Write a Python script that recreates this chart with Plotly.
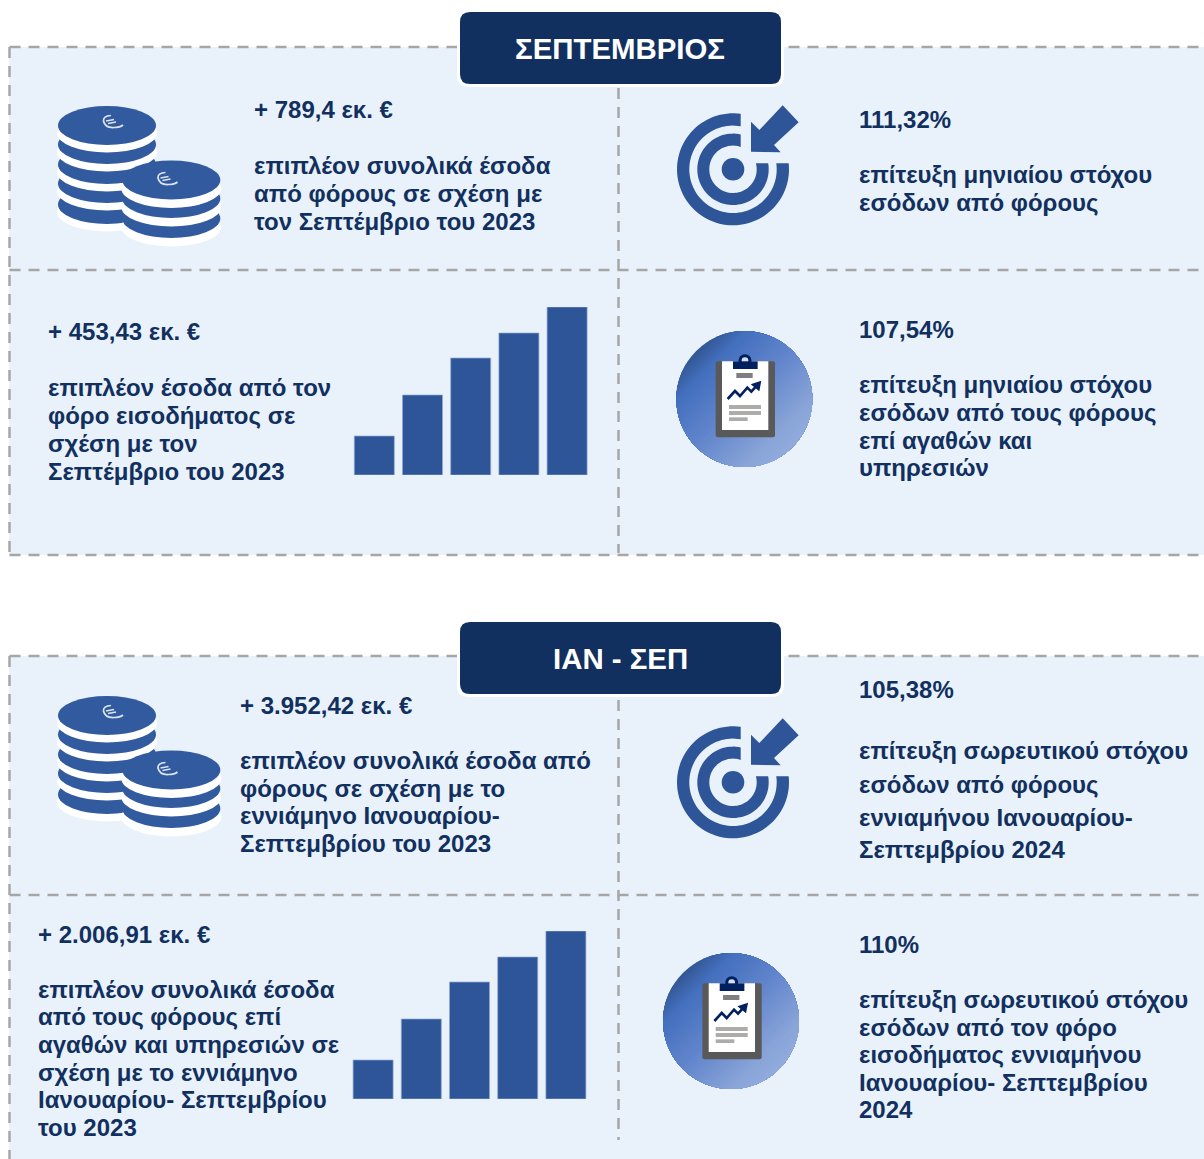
import math
import plotly.graph_objects as go

NAVY = "#12305F"
BLUE = "#2E5597"
COIN = "#325A9F"
PANEL = "#E9F2FA"
DASH = "#A6A6A6"

# ---------- data ----------
bar_categories = ["1", "2", "3", "4", "5"]
bars_september = [39, 80, 117, 142, 168]
bars_jan_sep = [39, 80, 117, 142, 168]

header_labels = ["ΣΕΠΤΕΜΒΡΙΟΣ", "ΙΑΝ - ΣΕΠ"]

block_a = ["+ 789,4 εκ. €", "επιπλέον συνολικά έσοδα", "από φόρους σε σχέση με", "τον Σεπτέμβριο του 2023"]
block_b = ["111,32%", "επίτευξη μηνιαίου στόχου", "εσόδων από φόρους"]
block_c = ["+ 453,43 εκ. €", "επιπλέον έσοδα από τον", "φόρο εισοδήματος σε", "σχέση με τον", "Σεπτέμβριο του 2023"]
block_d = ["107,54%", "επίτευξη μηνιαίου στόχου", "εσόδων από τους φόρους", "επί αγαθών και", "υπηρεσιών"]
block_e = ["+ 3.952,42 εκ. €", "επιπλέον συνολικά έσοδα από", "φόρους σε σχέση με το", "εννιάμηνο Ιανουαρίου-", "Σεπτεμβρίου του 2023"]
block_f = ["105,38%", "επίτευξη σωρευτικού στόχου", "εσόδων από φόρους", "εννιαμήνου Ιανουαρίου-", "Σεπτεμβρίου 2024"]
block_g = ["+ 2.006,91 εκ. €", "επιπλέον συνολικά έσοδα", "από τους φόρους επί", "αγαθών και υπηρεσιών σε", "σχέση με το εννιάμηνο", "Ιανουαρίου- Σεπτεμβρίου", "του 2023"]
block_h = ["110%", "επίτευξη σωρευτικού στόχου", "εσόδων από τον φόρο", "εισοδήματος εννιαμήνου", "Ιανουαρίου- Σεπτεμβρίου", "2024"]

blocks = [
    (252, [109, 165, 193, 221], block_a),
    (857, [119, 174, 202], block_b),
    (46, [331, 387, 415, 443, 471], block_c),
    (857, [329, 384, 412, 440, 467], block_d),
    (238, [705, 760, 788, 815, 843], block_e),
    (857, [689, 750, 784, 817, 849], block_f),
    (36, [934, 989, 1016, 1044, 1072, 1099, 1127], block_g),
    (857, [944, 999, 1027, 1054, 1082, 1109], block_h),
]

W, H = 1204, 1159
shapes = []
annotations = []


def add_path(d, fill, line=None, lw=0):
    shapes.append(dict(type="path", path=d, xref="x", yref="y", fillcolor=fill,
                       line=dict(color=line or fill, width=lw), layer="below"))


def poly(pts):
    return "M" + " L".join(f"{x:.2f},{y:.2f}" for x, y in pts) + " Z"


def stroke(d, color, width):
    shapes.append(dict(type="path", xref="x", yref="y", layer="below", path=d,
                       line=dict(color=color, width=width), fillcolor="rgba(0,0,0,0)"))


def ellipse(cx, cy, rx, ry, fill):
    shapes.append(dict(type="circle", xref="x", yref="y", x0=cx - rx, x1=cx + rx, y0=cy - ry, y1=cy + ry,
                       fillcolor=fill, line=dict(width=0), layer="below"))


def rect(x0, y0, x1, y1, fill):
    shapes.append(dict(type="rect", xref="x", yref="y", x0=x0, x1=x1, y0=y0, y1=y1,
                       fillcolor=fill, line=dict(width=0), layer="below"))


def dash(x0, y0, x1, y1):
    shapes.append(dict(type="line", xref="x", yref="y", x0=x0, x1=x1, y0=y0, y1=y1,
                       line=dict(color=DASH, width=2.5, dash="11px,8px"), layer="below"))


def rrect(x0, y0, x1, y1, r):
    return (f"M{x0+r},{y0} L{x1-r},{y0} Q{x1},{y0} {x1},{y0+r} L{x1},{y1-r} Q{x1},{y1} {x1-r},{y1} "
            f"L{x0+r},{y1} Q{x0},{y1} {x0},{y1-r} L{x0},{y0+r} Q{x0},{y0} {x0+r},{y0} Z")


def euro(x, y):
    c = "#DCE5F1"
    stroke(f"M{x},{y-6.5} Q{x-8},{y-6} {x-7.5},{y-1} Q{x-6},{y+6} {x+3},{y+5.5} Q{x+9},{y+5.5} {x+12},{y+3}", c, 1.7)
    stroke(f"M{x-5},{y-1} L{x+3},{y-2.5}", c, 1.3)
    stroke(f"M{x-3},{y+1.5} L{x+5},{y}", c, 1.3)


def coins(dy):
    top = [125.5, 144.5, 164.5, 183.5, 204.5]
    for c in reversed(top):
        ellipse(107, c + 7.5 + dy, 50, 19.5, "white")
        ellipse(107, c + dy, 49, 19.5, COIN)
    front = [180, 198.5, 218.5]
    for c in reversed(front):
        ellipse(171.3, c + 8.5 + dy, 50, 19.5, "white")
        ellipse(171.3, c + dy, 49, 19.5, COIN)
    euro(111, 122 + dy)
    euro(165.5, 179 + dy)


def ring(cx, cy, ro, ri, top_cut=7.7, right_cut=6.0):
    def arc(r):
        t0 = math.acos(right_cut / r)
        t1 = 2 * math.pi + math.asin(top_cut / r)
        n = 80
        return [(cx + r * math.sin(t0 + (t1 - t0) * i / n), cy - r * math.cos(t0 + (t1 - t0) * i / n))
                for i in range(n + 1)]
    return poly(arc(ro) + arc(ri)[::-1])


def target(dy):
    cx, cy = 733, 169.3 + dy
    add_path(ring(cx, cy, 56, 43.7), BLUE)
    add_path(ring(cx, cy, 35.7, 23.7), BLUE)
    ellipse(cx, cy, 11.3, 11.3, BLUE)
    arrow = [(428, 46), (476, 97), (402, 165), (422, 187), (333, 185), (333, 95), (358, 120)]
    add_path(poly([(640 + x / 3, 90 + y / 3 + dy) for x, y in arrow]), BLUE)


def lerp(a, b, t):
    return tuple(a[i] + (b[i] - a[i]) * t for i in range(3))


def grad_color(t):
    stops = [(0.0, (52, 88, 150)), (0.15, (68, 112, 190)), (0.5, (100, 135, 205)),
             (0.85, (138, 165, 216)), (1.0, (146, 172, 222))]
    for (t0, c0), (t1, c1) in zip(stops, stops[1:]):
        if t <= t1:
            return "rgb(%d,%d,%d)" % lerp(c0, c1, (t - t0) / (t1 - t0))
    return "rgb(146,172,222)"


def grad_circle(cx, cy, r):
    ang = math.radians(45)
    n = 60
    ellipse(cx, cy, r, r, grad_color(0))
    for k in range(1, n):
        t = k / n
        d = -r + 2 * r * t
        half = math.acos(d / r)
        m = 48
        pts = []
        for i in range(m + 1):
            a = ang - half + 2 * half * i / m
            pts.append((cx + r * math.cos(a), cy + r * math.sin(a)))
        add_path(poly(pts), grad_color(t))


def clipboard(dx, dy):
    def X(x):
        return 660 + x / 3 + dx

    def Y(y):
        return 320 + y / 3 + dy

    grad_circle(744.3 + dx, 399 + dy, 68)
    add_path(rrect(X(167), Y(124), X(345), Y(352), 2), "#595959")
    rect(X(186), Y(124), X(325), Y(330), "white")
    ellipse(X(255), Y(122), 6.5, 6.5, "#002060")
    ellipse(X(255), Y(122), 3.4, 3.4, "#D5DFF0")
    rect(X(219), Y(124), X(293), Y(147), "#002060")
    rect(X(229), Y(159), X(278), Y(174), "#7F7F7F")
    line_pts = [(203, 237), (225, 213), (240, 228), (262, 203), (274, 215), (291, 196)]
    stroke("M" + " L".join(f"{X(x):.2f},{Y(y):.2f}" for x, y in line_pts), "#002060", 2.6)
    add_path(poly([(X(x), Y(y)) for x, y in [(304, 182), (298, 214), (272, 193)]]), "#002060")
    rect(X(207), Y(255), X(303), Y(267), "#AEABAB")
    rect(X(207), Y(273), X(303), Y(285), "#AEABAB")
    rect(X(207), Y(292), X(263), Y(303), "#AEABAB")


# ---------- panels ----------
rect(9, 47, W, 555, PANEL)
rect(9, 656, W, H, PANEL)
for top, bottom, mid, v0, v1 in [(47, 555, 270, 88, 553), (656, None, 895, 700, 1140)]:
    dash(9.5, top, W + 5, top)
    dash(9.5, top, 9.5, bottom if bottom else H + 5)
    dash(9.5, mid, W + 5, mid)
    dash(618.5, v0, 618.5, v1)
    if bottom:
        dash(9.5, bottom, W + 5, bottom)

coins(0)
coins(590)
target(0)
target(613)
clipboard(0, 0)
clipboard(-13.3, 622)

# ---------- headers ----------
for label, y0 in zip(header_labels, [12, 622]):
    add_path(rrect(457, y0 - 1, 784, y0 + 75, 12), "white")
    add_path(rrect(460, y0, 781, y0 + 72, 10), NAVY)
    annotations.append(dict(x=620, y=y0 + 36.5, text=label, showarrow=False, xref="x", yref="y",
                            font=dict(family="Liberation Sans", size=29.4, color="white", weight="bold")))

# ---------- texts ----------
for x, ys, lines in blocks:
    for y, line in zip(ys, lines):
        annotations.append(dict(x=x, y=y, text=line, showarrow=False, xanchor="left", yanchor="middle",
                                xref="x", yref="y", align="left",
                                font=dict(family="Liberation Sans", size=24, color=NAVY, weight="bold")))

fig = go.Figure()


def bar_axes(idx, x0, x1, y0, y1, values):
    fig.add_trace(go.Bar(x=bar_categories, y=values, xaxis=f"x{idx}", yaxis=f"y{idx}",
                         marker=dict(color=BLUE, line=dict(color="#8FA9D3", width=0.7)),
                         showlegend=False, hoverinfo="skip"))
    fig.update_layout({
        f"xaxis{idx}": dict(domain=[x0 / W, x1 / W], anchor=f"y{idx}", visible=False, type="category",
                            fixedrange=True),
        f"yaxis{idx}": dict(domain=[1 - y1 / H, 1 - y0 / H], anchor=f"x{idx}", visible=False,
                            range=[0, max(values)], fixedrange=True),
    })


bar_axes(2, 350.2, 591.2, 307, 475, bars_september)
bar_axes(3, 349, 590, 931, 1099, bars_jan_sep)

fig.update_layout(
    width=W, height=H, margin=dict(l=0, r=0, t=0, b=0), paper_bgcolor="white", plot_bgcolor="rgba(0,0,0,0)",
    xaxis=dict(range=[0, W], visible=False, domain=[0, 1], fixedrange=True),
    yaxis=dict(range=[H, 0], visible=False, domain=[0, 1], fixedrange=True),
    bargap=8.2 / 48.2, shapes=shapes, annotations=annotations, showlegend=False,
)
fig.write_html("out.html", config=dict(displayModeBar=False),
               post_script="document.body.style.margin='0';document.documentElement.style.overflow='hidden';")
